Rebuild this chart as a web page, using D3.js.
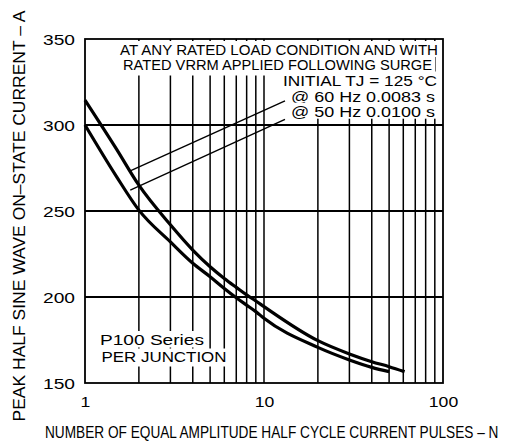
<!DOCTYPE html>
<html>
<head>
<meta charset="utf-8">
<script src="https://cdn.jsdelivr.net/npm/d3@7"></script>
<style>
  html, body { margin: 0; padding: 0; background: #fff; }
  svg { display: block; }
  text { font-family: "Liberation Sans", Arial, sans-serif; fill: #000; }
</style>
</head>
<body>
<svg id="chart" width="505" height="442"></svg>
<script>
// ---- data ----
const pulses60 = [1, 1.5, 2, 3, 4, 5, 6, 7, 8, 9, 10, 20, 30, 40, 50, 61];
const current60 = [314.5, 286, 265, 242, 227.3, 217.6, 210.8, 205.6, 201.2, 197.7, 194.4, 174.6, 166.9, 162.4, 159.5, 156.6];
const pulses50 = [1, 1.5, 2, 3, 4, 5, 6, 7, 8, 9, 10, 20, 30, 40, 50];
const current50 = [300, 270, 250.5, 232, 219.6, 211.8, 205, 199.6, 195.3, 191.5, 187.6, 170.7, 163.4, 159.1, 156.6];
const xTickLabels = [1, 10, 100];
const yTickLabels = [150, 200, 250, 300, 350];
const yGridValues = [200, 250, 300];
// leader lines: [N, A] from label to curve
const leader60 = [[13.1, 314], [1.79, 273.3]];
const leader50 = [[13.1, 303.3], [1.79, 262.2]];
const headerLines = ["AT ANY RATED LOAD CONDITION AND WITH", "RATED VRRM APPLIED FOLLOWING SURGE"];
const condLines = ["INITIAL TJ = 125 \u00B0C", "@ 60 Hz 0.0083 s", "@ 50 Hz 0.0100 s"];
const seriesLines = ["P100 Series", "PER JUNCTION"];
const xTitle = "NUMBER OF EQUAL AMPLITUDE HALF CYCLE CURRENT PULSES \u2013 N";
const yTitle = "PEAK HALF SINE WAVE ON\u2013STATE CURRENT \u2013 A";

// ---- layout ----
const svg = d3.select("#chart");
const L = 85, R = 443, T = 39, B = 383;
const x = d3.scaleLog().domain([1, 100]).range([L, R]);
const y = d3.scaleLinear().domain([150, 350]).range([B, T]);

// grid
const grid = svg.append("g");
grid.selectAll("line.v").data(x.ticks().filter(d => d > 1 && d < 100)).join("line")
  .attr("x1", d => x(d)).attr("x2", d => x(d)).attr("y1", T).attr("y2", B)
  .attr("stroke", "#000").attr("stroke-width", 1.5);
grid.selectAll("line.h").data(yGridValues).join("line")
  .attr("x1", L).attr("x2", R).attr("y1", d => y(d)).attr("y2", d => y(d))
  .attr("stroke", "#000").attr("stroke-width", 2);

// text blocks with white backgrounds
const labels = svg.append("g");
function boxedText(str, x0, len, base, size, cap, padX, padTop, padBot) {
  labels.append("rect")
    .attr("x", x0 - padX).attr("y", base - cap - padTop)
    .attr("width", len + 2 * padX).attr("height", cap + padTop + padBot)
    .attr("fill", "#fff");
  labels.append("text")
    .attr("x", x0).attr("y", base)
    .attr("font-size", size)
    .attr("textLength", len).attr("lengthAdjust", "spacingAndGlyphs")
    .text(str);
}
// header block
boxedText(headerLines[0], 120, 318, 54.5, 14, 10.5, 3, 3, 2.5);
boxedText(headerLines[1], 123, 309, 70, 14, 10.5, 3, 2.5, 5.5);
boxedText(condLines[0], 283, 154, 86, 14, 10.5, 3, 4, 3);
boxedText(condLines[1], 291, 144, 101.6, 14, 10.5, 3, 4, 3);
boxedText(condLines[2], 291, 144, 117.2, 14, 10.5, 3, 4, 1.5);
// series block
boxedText(seriesLines[0], 100, 104, 344.5, 14.5, 10.5, 2, 3, 3);
boxedText(seriesLines[1], 101.5, 125, 362, 14.5, 10.5, 2, 3, 4.5);

// leader lines
const lineGen = d3.line().x(d => x(d[0])).y(d => y(d[1]));
[leader60, leader50].forEach(ld => {
  svg.append("path").attr("d", lineGen(ld))
    .attr("fill", "none").attr("stroke", "#000").attr("stroke-width", 1.4);
});

// curves
const curve = d3.line().x(d => x(d[0])).y(d => y(d[1])).curve(d3.curveMonotoneX);
const s60 = pulses60.map((n, i) => [n, current60[i]]);
const s50 = pulses50.map((n, i) => [n, current50[i]]);
[s60, s50].forEach(s => {
  svg.append("path").attr("d", curve(s))
    .attr("fill", "none").attr("stroke", "#000").attr("stroke-width", 3.2)
    .attr("stroke-linejoin", "round");
});

// frame
svg.append("rect").attr("x", L).attr("y", T).attr("width", R - L).attr("height", B - T)
  .attr("fill", "none").attr("stroke", "#000").attr("stroke-width", 1.8);

// axes (labels only)
const yAxis = d3.axisLeft(y).tickValues(yTickLabels).tickSize(0).tickPadding(10);
const gy = svg.append("g").attr("transform", `translate(${L},0)`).call(yAxis);
gy.select(".domain").remove();
gy.selectAll("text").attr("font-size", 15.5).attr("font-family", "Liberation Sans, Arial, sans-serif")
  .attr("textLength", 32).attr("lengthAdjust", "spacingAndGlyphs").attr("dy", "0.36em");

const xAxis = d3.axisBottom(x).tickValues(xTickLabels).tickFormat(d3.format("d")).tickSize(0).tickPadding(13);
const gx = svg.append("g").attr("transform", `translate(0,${B})`).call(xAxis);
gx.select(".domain").remove();
gx.selectAll("text").attr("font-size", 15.5).attr("font-family", "Liberation Sans, Arial, sans-serif")
  .attr("textLength", d => String(d).length * 9.8).attr("lengthAdjust", "spacingAndGlyphs");

// axis titles (x title condensed horizontally to fit, as in the reference)
const xt = svg.append("text").attr("x", 0).attr("y", 0)
  .attr("font-size", 16).text(xTitle);
const natural = xt.node().getComputedTextLength();
const targetW = 454;
xt.attr("transform", `translate(45,437.5) scale(${targetW / natural},1)`);

svg.append("text").attr("transform", "translate(25,216) rotate(-90)")
  .attr("text-anchor", "middle")
  .attr("font-size", 16).attr("textLength", 411).attr("lengthAdjust", "spacingAndGlyphs")
  .text(yTitle);
</script>
</body>
</html>
